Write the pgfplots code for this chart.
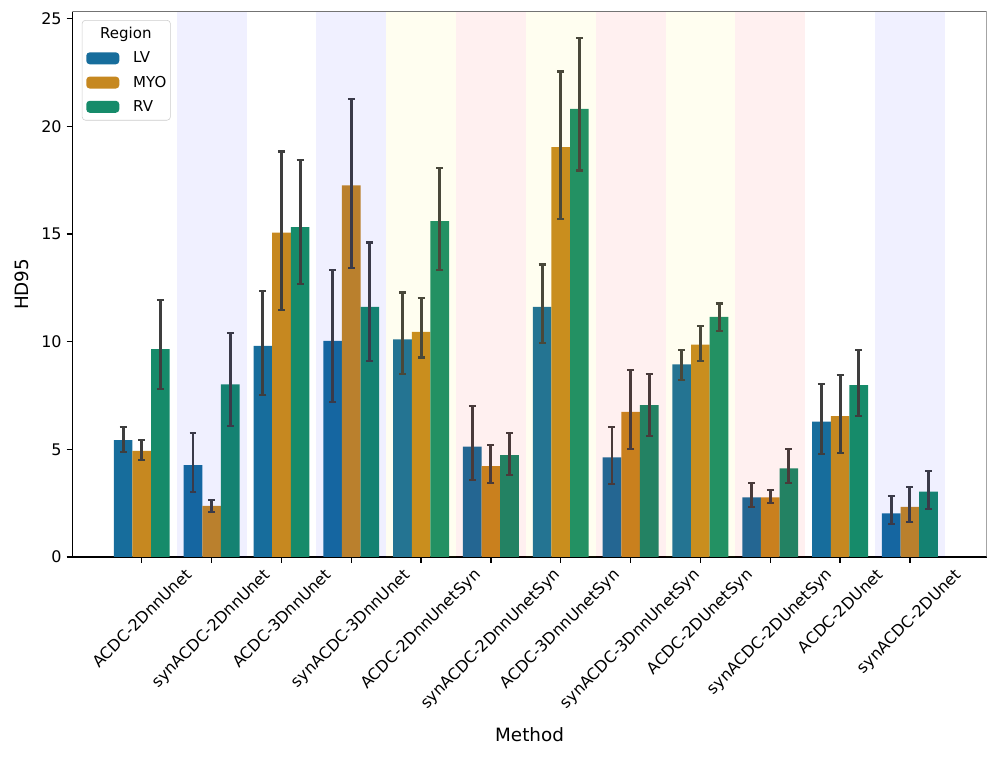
\documentclass[border=0pt]{standalone}
\usepackage{fontspec}
\setmainfont{DejaVu Sans}
\usepackage{graphicx}
\usepackage{pgfplots}
\pgfplotsset{compat=1.18}
\usepackage{pgfplotstable}

\definecolor{cLV}{RGB}{23,109,156}
\definecolor{cMYO}{RGB}{198,136,32}
\definecolor{cRV}{RGB}{22,139,106}
\definecolor{errc}{RGB}{62,62,62}

% x = method index, y = mean, lo/hi = ends of the error bar
\pgfplotstableread{
x y lo hi
0 5.43 4.88 6.04
1 4.27 3.03 5.77
2 9.80 7.51 12.34
3 10.03 7.20 13.31
4 10.10 8.49 12.28
5 5.12 3.57 7.00
6 11.61 9.94 13.58
7 4.62 3.39 6.04
8 8.94 8.21 9.60
9 2.77 2.33 3.42
10 6.28 4.78 8.02
11 2.03 1.53 2.83
}\lvdata
\pgfplotstableread{
x y lo hi
0 4.93 4.50 5.43
1 2.37 2.10 2.64
2 15.06 11.46 18.83
3 17.25 13.42 21.27
4 10.45 9.26 12.03
5 4.22 3.45 5.19
6 19.03 15.68 22.54
7 6.74 5.00 8.70
8 9.86 9.11 10.71
9 2.77 2.49 3.10
10 6.54 4.84 8.45
11 2.33 1.64 3.26
}\myodata
\pgfplotstableread{
x y lo hi
0 9.65 7.79 11.95
1 8.01 6.08 10.40
2 15.32 12.69 18.45
3 11.61 9.11 14.60
4 15.60 13.31 18.06
5 4.73 3.80 5.77
6 20.81 17.95 24.09
7 7.05 5.61 8.49
8 11.15 10.50 11.77
9 4.11 3.42 5.00
10 7.98 6.54 9.60
11 3.03 2.21 4.00
}\rvdata

\pgfplotsset{
  hdbar/.style={
    ybar, bar width=0.2667, bar shift=0pt, draw=none, fill=#1,
    legend image code/.code={\fill[#1, fill opacity=1] (0pt,-4.3pt) rectangle (23.8pt,4.3pt);},
    error bars/.cd, y dir=both, y explicit,
    error bar style={line width=2.1pt, color=errc},
    error mark=|,
    error mark options={line width=1.6pt, color=errc, mark size=2.5pt},
  },
  band/.style={draw=none, fill=#1, fill opacity=0.06, forget plot},
}

\begin{document}
\begin{tikzpicture}
\begin{axis}[
  scale only axis, width=658.3pt, height=392.6pt,
  xmin=-0.994, xmax=12.10, ymin=0, ymax=25.32,
  xtick={0,...,11},
  xticklabels={
    \rotatebox{45}{ACDC-2DnnUnet},
    \rotatebox{45}{synACDC-2DnnUnet},
    \rotatebox{45}{ACDC-3DnnUnet},
    \rotatebox{45}{synACDC-3DnnUnet},
    \rotatebox{45}{ACDC-2DnnUnetSyn},
    \rotatebox{45}{synACDC-2DnnUnetSyn},
    \rotatebox{45}{ACDC-3DnnUnetSyn},
    \rotatebox{45}{synACDC-3DnnUnetSyn},
    \rotatebox{45}{ACDC-2DUnetSyn},
    \rotatebox{45}{synACDC-2DUnetSyn},
    \rotatebox{45}{ACDC-2DUnet},
    \rotatebox{45}{synACDC-2DUnet}},
  xticklabel style={anchor=north, inner sep=0pt, yshift=-3pt},
  ytick={0,5,10,15,20,25},
  tick align=outside, tick pos=left, major tick length=4.2pt,
  tick style={black, line width=0.9pt},
  ticklabel style={font=\fontsize{11.5}{13}\selectfont},
  /pgf/number format/assume math mode=true,
  axis x line*=bottom, axis y line*=left,
  axis line style={-, line width=0.9pt, black},
  xlabel={Method}, ylabel={HD95},
  label style={font=\fontsize{13.2}{15}\selectfont},
  xlabel style={yshift=-8pt},
  ylabel style={yshift=2pt},
  legend style={at={(axis description cs:0,1)}, anchor=north west,
    xshift=6.8pt, yshift=-6pt,
    draw=black!20, rounded corners=2.5pt, fill=white, fill opacity=0.8, text opacity=1,
    font=\fontsize{10.8}{13}\selectfont, row sep=8pt, inner xsep=3pt, inner ysep=5pt,
    nodes={inner sep=0pt},
    /tikz/every odd column/.append style={column sep=10pt}},
  legend cell align=left,
]
\addlegendimage{empty legend}
\addlegendentry{\hspace*{-23.8pt}Region}

\addplot[hdbar=cLV] table[x expr=\thisrow{x}-0.2667, y=y,
  y error plus expr=\thisrow{hi}-\thisrow{y}, y error minus expr=\thisrow{y}-\thisrow{lo}] {\lvdata};
\addlegendentry{LV}
\addplot[hdbar=cMYO] table[x=x, y=y,
  y error plus expr=\thisrow{hi}-\thisrow{y}, y error minus expr=\thisrow{y}-\thisrow{lo}] {\myodata};
\addlegendentry{MYO}
\addplot[hdbar=cRV] table[x expr=\thisrow{x}+0.2667, y=y,
  y error plus expr=\thisrow{hi}-\thisrow{y}, y error minus expr=\thisrow{y}-\thisrow{lo}] {\rvdata};
\addlegendentry{RV}

% shaded method bands
\addplot[band=blue] coordinates {(0.5,25.32) (1.5,25.32)} \closedcycle;
\addplot[band=blue] coordinates {(2.5,25.32) (3.5,25.32)} \closedcycle;
\addplot[band=yellow] coordinates {(3.5,25.32) (4.5,25.32)} \closedcycle;
\addplot[band=red] coordinates {(4.5,25.32) (5.5,25.32)} \closedcycle;
\addplot[band=yellow] coordinates {(5.5,25.32) (6.5,25.32)} \closedcycle;
\addplot[band=red] coordinates {(6.5,25.32) (7.5,25.32)} \closedcycle;
\addplot[band=yellow] coordinates {(7.5,25.32) (8.5,25.32)} \closedcycle;
\addplot[band=red] coordinates {(8.5,25.32) (9.5,25.32)} \closedcycle;
\addplot[band=blue] coordinates {(10.5,25.32) (11.5,25.32)} \closedcycle;

\draw[line width=0.9pt, black!55] (rel axis cs:0,1) -- (rel axis cs:1,1) -- (rel axis cs:1,0);
\coordinate (O) at (rel axis cs:0,0);
\coordinate (T) at (rel axis cs:1,1);
\end{axis}
\pgfresetboundingbox
\path ([shift={(-52.1pt,-143.3pt)}]O) rectangle ([shift={(7.4pt,8.4pt)}]T);
\end{tikzpicture}
\end{document}
